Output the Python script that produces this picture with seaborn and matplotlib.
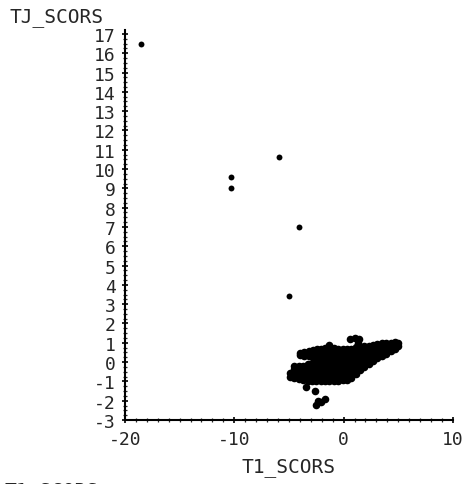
import matplotlib
matplotlib.use("Agg")
from matplotlib import pyplot as plt
from matplotlib.ticker import MultipleLocator
import seaborn as sns
import pandas as pd

# Puntos aislados
outlier_t1 = [-18.5, -10.3, -10.3, -5.9, -4.1, -5.0]
outlier_t3 = [16.5, 9.6, 9.0, 10.6, 7.0, 3.4]

# Nube principal: columnas de T1 con sus valores de T3
cluster_cols = [
    (-4.9, [-0.75, -0.55]),
    (-4.5, [-0.85, -0.6, -0.35, -0.2]),
    (-4.1, [-0.9, -0.65, -0.4, -0.2]),
    (-4.0, [0.35, 0.45]),
    (-3.7, [-0.95, -0.7, -0.45, -0.2]),
    (-3.6, [0.3, 0.5]),
    (-3.3, [-1.0, -0.75, -0.5, -0.25, -0.1]),
    (-3.2, [0.3, 0.55]),
    (-2.9, [-1.0, -0.75, -0.5, -0.25, -0.05]),
    (-2.8, [0.25, 0.5, 0.65]),
    (-2.5, [-1.0, -0.75, -0.5, -0.25, 0.0]),
    (-2.4, [0.1, 0.35, 0.6, 0.7]),
    (-2.1, [-1.0, -0.75, -0.5, -0.25, 0.0, 0.25, 0.5, 0.7]),
    (-1.7, [-1.0, -0.75, -0.5, -0.25, 0.0, 0.25, 0.5, 0.75]),
    (-1.3, [-1.0, -0.75, -0.5, -0.25, 0.0, 0.25, 0.5, 0.8, 0.88]),
    (-0.9, [-1.0, -0.75, -0.5, -0.25, 0.0, 0.25, 0.5, 0.75]),
    (-0.5, [-1.0, -0.75, -0.5, -0.25, 0.0, 0.25, 0.5, 0.7]),
    (-0.1, [-0.95, -0.7, -0.45, -0.2, 0.05, 0.3, 0.55, 0.7]),
    (0.3, [-0.95, -0.7, -0.45, -0.2, 0.05, 0.3, 0.55, 0.7]),
    (0.7, [-0.8, -0.55, -0.3, -0.05, 0.2, 0.45, 0.7]),
    (1.1, [-0.6, -0.35, -0.1, 0.15, 0.4, 0.65, 0.8]),
    (1.5, [-0.4, -0.15, 0.1, 0.35, 0.6, 0.8]),
    (1.9, [-0.25, 0.0, 0.25, 0.5, 0.75, 0.85]),
    (2.3, [-0.1, 0.15, 0.4, 0.65, 0.85]),
    (2.7, [0.05, 0.3, 0.55, 0.8, 0.9]),
    (3.1, [0.2, 0.45, 0.7, 0.95]),
    (3.5, [0.3, 0.55, 0.8, 1.0]),
    (3.9, [0.4, 0.65, 0.9, 1.0]),
    (4.3, [0.55, 0.8, 1.0]),
    (4.7, [0.7, 0.95, 1.05]),
    (5.0, [0.85, 1.0]),
]

# Manchas pequenas arriba y abajo de la nube
blob_t1 = [0.6, 1.0, 1.4, 1.3, -3.4, -2.6, -2.5, -2.1, -1.7, -2.3]
blob_t3 = [1.2, 1.25, 1.22, 1.0, -1.3, -1.5, -2.2, -2.05, -1.9, -2.0]

x_ticks = [-20, -10, 0, 10]
y_ticks = list(range(-3, 18))

out_df = pd.DataFrame({"T1_SCORS": outlier_t1, "TJ_SCORS": outlier_t3})
t1 = list(blob_t1)
t3 = list(blob_t3)
for x, ys in cluster_cols:
    t1 += [x] * len(ys)
    t3 += ys
cl_df = pd.DataFrame({"T1_SCORS": t1, "TJ_SCORS": t3})

sns.set_style("ticks")
plt.rcParams["font.family"] = ["DejaVu Sans Mono", "DejaVu Sans"]
plt.rcParams["axes.unicode_minus"] = False

fig = plt.figure(figsize=(4.66, 4.85), dpi=100)
ax = fig.add_axes([0.268, 0.132, 0.704, 0.804])

sns.scatterplot(data=out_df, x="T1_SCORS", y="TJ_SCORS", ax=ax,
                color="black", s=18, linewidth=0, marker="o")
sns.scatterplot(data=cl_df, x="T1_SCORS", y="TJ_SCORS", ax=ax,
                color="black", s=30, linewidth=0, marker="o")

ax.set_xlim(-20, 10)
ax.set_ylim(-3, 17.2)
ax.set_xticks(x_ticks)
ax.set_yticks(y_ticks)
ax.xaxis.set_minor_locator(MultipleLocator(1))
ax.yaxis.set_minor_locator(MultipleLocator(0.25))
ax.tick_params(which="major", direction="inout", length=5, width=1.2,
               labelsize=13, pad=4, color="black")
ax.tick_params(which="minor", direction="inout", length=3, width=0.9)
ax.tick_params(axis="x", pad=5)

for side in ["top", "right"]:
    ax.spines[side].set_visible(False)
for side in ["left", "bottom"]:
    ax.spines[side].set_linewidth(1.5)
    ax.spines[side].set_color("black")

ax.set_xlabel("T1_SCORS", fontsize=14, labelpad=6)
ax.set_ylabel("")
fig.text(0.02, 0.963, "TJ_SCORS", fontsize=14, va="center", ha="left")
# texto cortado en el borde inferior, como en el original
fig.text(0.01, 0.006, "T1_SCORS", fontsize=14, va="top", ha="left")

fig.savefig("out.png", dpi=100)
